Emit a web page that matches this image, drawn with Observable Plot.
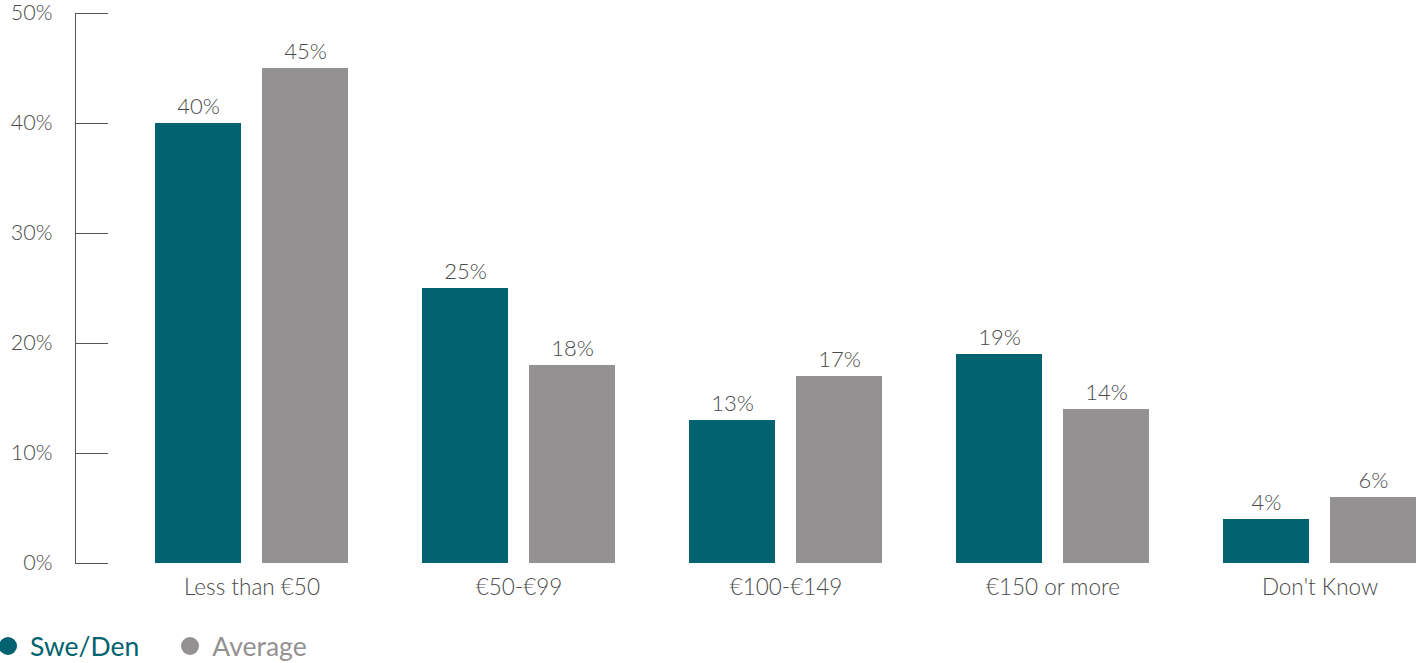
<!DOCTYPE html>
<html>
<head>
<meta charset="utf-8">
<script src="https://cdn.jsdelivr.net/npm/d3@7"></script>
<script src="https://cdn.jsdelivr.net/npm/@observablehq/plot@0.6"></script>
<style>
  body { margin: 0; background: #fff; font-family: Lato, "Open Sans", sans-serif; }
  #legend { display: flex; align-items: center; height: 48px; margin-top: 7px; margin-left: -1px; }
  .item { display: flex; align-items: center; font-size: 26.5px; }
  .item + .item { margin-left: 42px; }
  .dot { width: 18px; height: 18px; border-radius: 50%; margin-right: 13px; }
</style>
</head>
<body>
<div id="chart"></div>
<div id="legend"></div>
<script>
const categories = ["Less than €50", "€50-€99", "€100-€149", "€150 or more", "Don't Know"];
const seriesNames = ["Swe/Den", "Average"];
const sweDen = [40, 25, 13, 19, 4];
const average = [45, 18, 17, 14, 6];
const yTicks = [0, 10, 20, 30, 40, 50];
const colors = ["#00636f", "#939192"];

const data = [];
categories.forEach((c, i) => {
  data.push({category: c, series: seriesNames[0], value: sweDen[i]});
  data.push({category: c, series: seriesNames[1], value: average[i]});
});

const W = 1421, H = 615;
const mL = 75, mT = 13, mB = 52;
const step = 267;
const textColor = "#4a4a4a";

const chart = Plot.plot({
  width: W,
  height: H,
  marginLeft: mL,
  marginRight: W - mL - 5 * step,
  marginTop: mT,
  marginBottom: mB,
  style: {fontFamily: "Lato, 'Open Sans', sans-serif", fontSize: "21px", color: textColor},
  fx: {domain: categories, range: [mL, mL + 5 * step], paddingInner: 0, paddingOuter: 0, axis: null},
  x: {domain: seriesNames, range: [mL + 80, mL + 80 + 193], paddingInner: 21 / 107, paddingOuter: 0, axis: null},
  y: {domain: [0, 50], ticks: yTicks, label: null, axis: null},
  color: {domain: seriesNames, range: colors},
  marks: [
    Plot.barY(data, {fx: "category", x: "series", y: "value", fill: "series"}),
    Plot.text(data, {fx: "category", x: "series", y: "value", text: d => d.value + "%", lineAnchor: "bottom", dy: -10, fill: textColor, fontSize: 22, fontWeight: 300}),
    Plot.axisFx({anchor: "bottom", label: null, tickSize: 0, tickPadding: 16, dx: 43, fontSize: 22.5, fontWeight: 300, fill: textColor}),
    Plot.axisY({ticks: yTicks, tickFormat: d => d + "%", tickSize: 0, tickPadding: 23, fontSize: 21.5, fontWeight: 300, fill: textColor, label: null}),
    Plot.axisY({ticks: yTicks, tickSize: -33, text: null, stroke: "#555", label: null}),
    Plot.frame({anchor: "left", stroke: "#555", facetAnchor: "left"})
  ]
});
document.getElementById("chart").appendChild(chart);

const legend = document.getElementById("legend");
seriesNames.forEach((s, i) => {
  const item = document.createElement("div");
  item.className = "item";
  item.style.color = colors[i];
  const dot = document.createElement("span");
  dot.className = "dot";
  dot.style.background = colors[i];
  item.appendChild(dot);
  item.appendChild(document.createTextNode(s));
  legend.appendChild(item);
});
</script>
</body>
</html>
